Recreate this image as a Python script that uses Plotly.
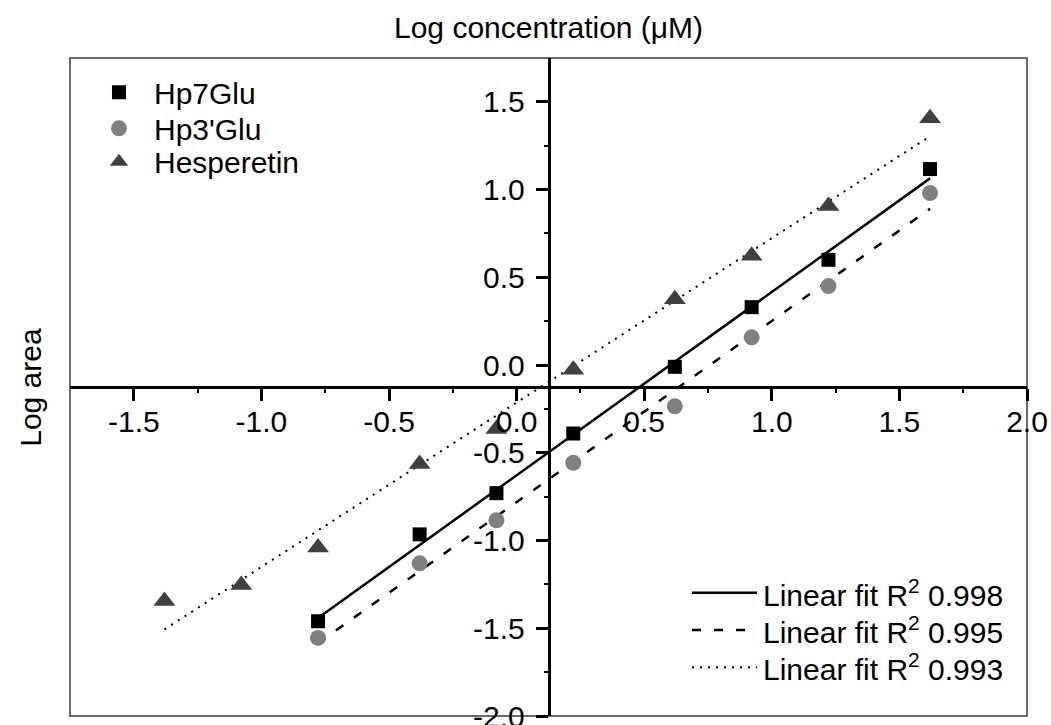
import numpy as np
import plotly.graph_objects as go

# Log concentration (µM) of the dilution series
log_conc = [-0.778, -0.380, -0.079, 0.222, 0.620, 0.921, 1.222, 1.620]
hesp_conc = [-1.380, -1.079, -0.778, -0.380, -0.079, 0.222, 0.620, 0.921, 1.222, 1.620]

# Log peak area for each compound
hp7glu = [-1.46, -0.965, -0.73, -0.39, -0.01, 0.33, 0.60, 1.117]
hp3glu = [-1.555, -1.13, -0.885, -0.557, -0.235, 0.158, 0.45, 0.98]
hesperetin = [-1.345, -1.254, -1.04, -0.564, -0.365, -0.027, 0.375, 0.623, 0.906, 1.406]

series_names = ["Hp7Glu", "Hp3'Glu", "Hesperetin"]
r_squared = [0.998, 0.995, 0.993]

x_ticks = [-1.5, -1.0, -0.5, 0.0, 0.5, 1.0, 1.5, 2.0]
y_ticks = [-2.0, -1.5, -1.0, -0.5, 0.0, 0.5, 1.0, 1.5]

FONT = "Liberation Sans, Arial, sans-serif"
FS = 30

series = [
    (log_conc, hp7glu, "square", "#000000", 14, "solid", 2.5),
    (log_conc, hp3glu, "circle", "#808080", 16, "9px,13px", 2.5),
    (hesp_conc, hesperetin, "triangle-up", "#404040", 19, "2px,6px", 2),
]
legend_ids = ["legend", "legend2", "legend3"]
legend_rows = [0.9478, 0.8931, 0.8424]

fig = go.Figure()

# fitted regression lines
for xs, ys, sym, col, size, dash, lw in series:
    slope, icpt = np.polyfit(xs, ys, 1)
    xl = np.array([min(xs), max(xs)])
    fig.add_trace(go.Scatter(
        x=xl, y=slope * xl + icpt, mode="lines", showlegend=False,
        line=dict(color="black", width=lw, dash=dash), hoverinfo="skip"))

# measured points, each with its own legend entry
for (xs, ys, sym, col, size, dash, lw), name, lid in zip(series, series_names, legend_ids):
    fig.add_trace(go.Scatter(
        x=xs, y=ys, mode="markers", name=name, legend=lid,
        marker=dict(symbol=sym, color=col, size=size, line=dict(width=0))))


def fmt(v):
    return f"{v:.1f}"


def mids(t):
    return [(a + b) / 2 for a, b in zip(t[:-1], t[1:])]


axis_common = dict(
    showline=True, linecolor="black", linewidth=2.5,
    ticks="outside", ticklen=12, tickwidth=2.5, tickcolor="black",
    showgrid=False, zeroline=False, ticklabeloverflow="allow", automargin=False,
    tickfont=dict(family=FONT, size=FS, color="black"),
    anchor="free", position=0.5,
)

legend_style = dict(xanchor="left", yanchor="middle", x=0.0146,
                    bgcolor="rgba(0,0,0,0)", itemwidth=60,
                    font=dict(family=FONT, size=FS, color="black"))

fig.update_layout(
    width=1051, height=725,
    margin=dict(l=70, r=24, t=58, b=9, autoexpand=False),
    paper_bgcolor="white", plot_bgcolor="white",
    font=dict(family=FONT, size=FS, color="black"),
    xaxis=dict(range=[-1.75, 2.0], tickmode="array", tickvals=x_ticks,
               ticktext=[fmt(v) for v in x_ticks], ticklabelstandoff=-5,
               minor=dict(tickvals=mids(x_ticks), ticklen=4, tickwidth=1.5,
                          tickcolor="black", ticks="outside"),
               **axis_common),
    yaxis=dict(range=[-2.0, 1.75], tickmode="array", tickvals=y_ticks,
               ticktext=[fmt(v) for v in y_ticks], ticklabelstandoff=5,
               minor=dict(tickvals=mids(y_ticks), ticklen=4, tickwidth=1.5,
                          tickcolor="black", ticks="outside"),
               **axis_common),
    legend=dict(y=legend_rows[0], **legend_style),
    legend2=dict(y=legend_rows[1], **legend_style),
    legend3=dict(y=legend_rows[2], **legend_style),
    showlegend=True,
)

# frame around the plotting area
fig.add_shape(type="rect", xref="paper", yref="paper", x0=0, y0=0, x1=1, y1=1,
              line=dict(color="#3a3a3a", width=1.5), layer="below")

# axis titles
fig.add_annotation(text="Log concentration (μM)", xref="paper", yref="paper",
                   x=0.5, y=1.047, xanchor="center", yanchor="middle",
                   showarrow=False, font=dict(family=FONT, size=FS))
fig.add_annotation(text="Log area", xref="paper", yref="paper",
                   x=-0.042, y=0.5, xanchor="center", yanchor="middle",
                   textangle=-90, showarrow=False, font=dict(family=FONT, size=FS))

# key for the fitted lines
key_rows = [0.1874, 0.1307, 0.074]
for (xs, ys, sym, col, size, dash, lw), r2, yk in zip(series, r_squared, key_rows):
    fig.add_shape(type="line", xref="paper", yref="paper",
                  x0=0.650, x1=0.718, y0=yk, y1=yk,
                  line=dict(color="black", width=lw, dash=dash))
    fig.add_annotation(text=f"Linear fit R<sup>2</sup> {r2:.3f}", xref="paper", yref="paper",
                       x=0.722, y=yk, xanchor="left", yanchor="middle",
                       showarrow=False, font=dict(family=FONT, size=FS))

fig.write_html("out.html")
